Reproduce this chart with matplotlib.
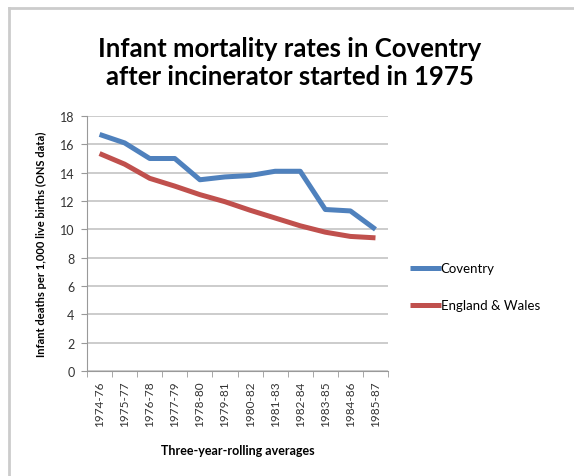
import matplotlib.pyplot as plt
from matplotlib.lines import Line2D
from matplotlib.ticker import FixedLocator

periods = ['1974-76', '1975-77', '1976-78', '1977-79', '1978-80', '1979-81',
           '1980-82', '1981-83', '1982-84', '1983-85', '1984-86', '1985-87']
coventry = [16.7, 16.1, 15.0, 15.0, 13.5, 13.7, 13.8, 14.1, 14.1, 11.4, 11.3, 10.0]
england_wales = [15.35, 14.6, 13.6, 13.05, 12.45, 11.95, 11.35, 10.8, 10.25, 9.8, 9.5, 9.4]

plt.rcParams['font.family'] = ['Lato', 'DejaVu Sans']

fig = plt.figure(figsize=(5.74, 4.77), dpi=100)
ax = fig.add_axes([0.1516, 0.2201, 0.5244, 0.5346])

x = list(range(len(periods)))
ax.plot(x, coventry, color='#4F81BD', lw=3.6, label='Coventry', solid_capstyle='butt')
ax.plot(x, england_wales, color='#C0504D', lw=3.6, label='England & Wales', solid_capstyle='butt')

ax.set_xlim(-0.5, len(periods) - 0.5)
ax.set_ylim(0, 18)
ax.set_yticks(range(0, 19, 2))
ax.set_xticks(x)
ax.set_xticklabels(periods, rotation=90, fontsize=8.5, color='#333333')
ax.xaxis.set_minor_locator(FixedLocator([i - 0.5 for i in range(len(periods) + 1)]))
ax.tick_params(axis='x', which='major', length=0, pad=7)
ax.tick_params(axis='x', which='minor', length=4, color='#999999', direction='out')
ax.tick_params(axis='y', length=4, color='#999999', labelsize=9, labelcolor='#333333', pad=5)

ax.grid(axis='y', color='#c8c8c8', lw=1.3)
ax.set_axisbelow(True)
for s in ['top', 'right']:
    ax.spines[s].set_visible(False)
ax.spines['left'].set_color('#999999')
ax.spines['bottom'].set_color('#999999')

ax.set_ylabel('Infant deaths per 1,000 live births (ONS data)', fontsize=8,
              fontweight='bold', labelpad=9)
ax.set_xlabel('Three-year-rolling averages', fontsize=9, fontweight='bold', labelpad=13)

fig.text(0.505, 0.868, 'Infant mortality rates in Coventry\nafter incinerator started in 1975',
         ha='center', va='center', fontsize=18.5, fontweight='bold', linespacing=1.2)

ax.legend(loc='center left', bbox_to_anchor=(1.035, 0.33), frameon=False, fontsize=9.5,
          handlelength=2.3, handletextpad=0.0, labelspacing=1.9)

fig.add_artist(Line2D([0.015, 1.0], [0.981, 0.981], color='#cccccc', lw=2))
fig.add_artist(Line2D([0.015, 0.015], [0.0, 0.981], color='#cccccc', lw=2))

fig.savefig('out.png', dpi=100)
